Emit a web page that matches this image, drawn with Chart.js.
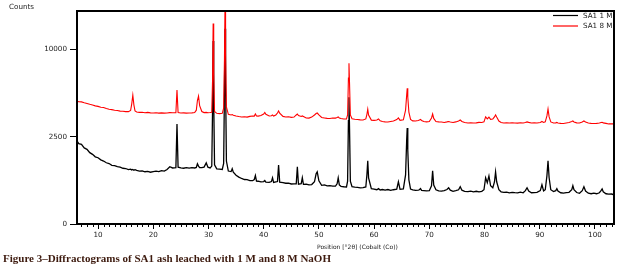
<!DOCTYPE html>
<html>
<head>
<meta charset="utf-8">
<script src="https://cdn.jsdelivr.net/npm/chart.js@4.4.1/dist/chart.umd.min.js"></script>
<style>
  html, body { margin: 0; padding: 0; background: #fff; }
  #wrap { position: relative; width: 623px; height: 274px; }
</style>
</head>
<body>
<div id="wrap"><canvas id="xrdChart"></canvas></div>
<script>
// position (°2θ) shared by both scans
const angles = [
  6.19, 6.5, 7, 7.5, 8, 8.5, 9, 9.5, 10, 10.5,
  11, 11.5, 12, 12.5, 13, 13.5, 14, 14.5, 15, 15.5, 15.9, 16.1, 16.3, 16.5, 16.7,
  17, 17.5, 18, 18.5, 19, 19.5, 20, 20.5, 21, 21.5, 22, 22.5, 23, 23.5,
  24.1, 24.3, 24.5, 25, 25.5, 26, 26.5, 27, 27.5, 27.8, 28.0, 28.2, 28.4, 28.8, 29.2, 29.6, 29.9, 30.3,
  30.6, 30.75, 30.85, 30.95, 31.1, 31.5, 32, 32.5, 32.75, 32.9, 33.0, 33.1, 33.25, 33.6, 34.1, 34.3, 34.5,
  35, 35.5, 36, 36.5, 37, 37.5, 38, 38.3, 38.5, 38.7, 39, 39.5, 40, 40.2, 40.4, 41, 41.4, 41.6, 41.8, 42.2, 42.5, 42.7, 42.9, 43.5, 44, 44.5, 45, 45.5,
  45.9, 46.1, 46.3, 46.8, 47.0, 47.2, 47.7, 48.2, 48.7, 49.2, 49.5, 49.7, 50.0, 50.5, 51, 51.5, 52, 52.5, 53, 53.3, 53.5, 53.7, 54, 54.5,
  55, 55.2, 55.35, 55.45, 55.55, 55.7, 56, 56.5, 57, 57.5, 58, 58.5, 58.7, 58.85, 59.0, 59.5, 60,
  60.5, 60.8, 61.1, 61.5, 62, 62.5, 63, 63.5, 64.1, 64.4, 64.7, 65.3, 65.7, 65.9, 66.0, 66.1, 66.3, 66.6, 67, 67.5, 68, 68.2, 68.4, 68.6, 69, 69.5,
  70, 70.4, 70.6, 70.8, 71.2, 71.7, 72.2, 72.7, 73.2, 73.5, 73.8, 74.3, 74.8, 75.3, 75.6, 75.9, 76.4, 77, 77.5, 78, 78.5, 79, 79.5,
  79.9, 80.2, 80.5, 80.8, 81.1, 81.5, 81.8, 82.0, 82.2, 82.6, 83, 83.5, 84, 84.5, 85, 85.5, 86, 86.5, 87, 87.4, 87.7, 88.0, 88.5, 89, 89.5, 90.1, 90.4, 90.7,
  91.0, 91.3, 91.5, 91.7, 92.0, 92.5, 92.9, 93.1, 93.3, 93.8, 94.3, 94.8, 95.3, 95.8, 96.0, 96.2, 96.7, 97.2, 97.7, 98.0, 98.3, 98.8, 99.3, 99.8, 100.3, 100.8, 101.1, 101.3, 101.5, 102, 102.5, 103, 103.45
];

// SA1 1 M (black)
const countsSA1_1M = [
  2262, 2120, 2080, 1900, 1830, 1670, 1590, 1480, 1440, 1350,
  1300, 1230, 1200, 1130, 1120, 1080, 1060, 1020, 1010, 970, 985, 960, 975, 950, 965,
  940, 915, 925, 895, 905, 880, 900, 915, 900, 935, 920, 975, 1075, 1030,
  1040, 3273, 1060, 1034, 1020, 1045, 1025, 1040, 1030, 1050, 1190, 1100, 1040, 1045, 1060, 1225, 1060, 1030,
  1100, 4500, 11000, 5000, 1150, 1000, 990, 975, 1200, 6000, 12500, 6500, 1300, 920, 900, 1000, 880,
  780, 720, 680, 650, 645, 620, 615, 650, 770, 605, 600, 580, 590, 620, 575, 570, 590, 700, 565, 580, 590, 1140, 575, 560, 545, 545, 525, 530,
  530, 1070, 520, 535, 700, 515, 520, 500, 510, 585, 825, 890, 610, 490, 500, 475, 485, 470, 470, 530, 700, 500, 465, 455,
  450, 600, 3500, 5280, 3000, 600, 455, 445, 440, 430, 435, 450, 800, 1306, 700, 410, 400,
  385, 410, 380, 390, 375, 390, 370, 385, 400, 585, 395, 405, 790, 2300, 3020, 1800, 640, 400, 380, 370, 375, 385, 410, 370, 365, 360,
  363, 480, 927, 500, 385, 360, 355, 365, 390, 430, 375, 350, 365, 385, 455, 375, 350, 342, 355, 340, 352, 338, 350,
  385, 700, 560, 760, 480, 430, 580, 893, 585, 385, 340, 330, 335, 320, 330, 322, 318, 332, 320, 365, 430, 355, 320, 325, 330, 365, 505, 360,
  385, 760, 1306, 700, 385, 345, 365, 410, 355, 320, 312, 325, 330, 385, 480, 385, 325, 310, 365, 455, 355, 310, 300, 312, 300, 320, 365, 405, 340, 300, 292, 295, 280
];

// SA1 8 M (red)
const countsSA1_8M = [
  4958, 4900, 4890, 4820, 4770, 4700, 4650, 4580, 4540, 4470,
  4450, 4370, 4320, 4290, 4240, 4230, 4180, 4175, 4140, 4140, 4230, 4720, 5450, 4640, 4200,
  4120, 4090, 4100, 4060, 4085, 4050, 4040, 4060, 4030, 4050, 4030, 4045, 4070, 4060,
  4060, 5880, 4070, 4040, 4050, 4030, 4040, 4050, 4080, 4250, 5000, 5370, 4600, 4150, 4070, 4090, 4060, 4080,
  4100, 7000, 13200, 7500, 4150, 4020, 4000, 4020, 4400, 9000, 16000, 9500, 4500, 3950, 3900, 3930, 3880,
  3830, 3790, 3760, 3770, 3750, 3800, 3830, 3820, 3970, 3830, 3820, 3860, 3970, 4080, 3950, 3830, 3840, 3900, 3820, 3900, 4040, 4190, 4030, 3800, 3760, 3770, 3730, 3750,
  3900, 3970, 3860, 3790, 3830, 3790, 3690, 3680, 3750, 3900, 4000, 4040, 3900, 3720, 3690, 3660, 3650, 3690, 3680, 3720, 3760, 3690, 3650, 3620,
  3620, 3900, 7000, 8480, 6500, 3900, 3640, 3600, 3580, 3560, 3550, 3620, 3950, 4330, 3900, 3540, 3520,
  3550, 3620, 3490, 3450, 3420, 3410, 3450, 3480, 3580, 3690, 3520, 3560, 4260, 5450, 6050, 5290, 4110, 3590, 3490, 3480, 3520, 3550, 3590, 3520, 3450, 3420,
  3450, 3690, 3970, 3655, 3450, 3420, 3410, 3385, 3420, 3450, 3415, 3385, 3420, 3485, 3550, 3450, 3385, 3350, 3360, 3345, 3355, 3385, 3380,
  3420, 3760, 3620, 3750, 3590, 3620, 3760, 3900, 3750, 3480, 3385, 3350, 3360, 3345, 3355, 3350, 3340, 3360, 3350, 3380, 3420, 3390, 3350, 3355, 3345, 3385, 3450, 3385,
  3420, 3830, 4335, 3760, 3420, 3350, 3355, 3385, 3350, 3320, 3318, 3350, 3385, 3450, 3485, 3420, 3355, 3345, 3420, 3485, 3420, 3350, 3320, 3318, 3320, 3350, 3385, 3390, 3355, 3320, 3286, 3290, 3286
];

const seriesNames = ["SA1 1 M", "SA1 8 M"];
const xTicks = [10, 20, 30, 40, 50, 60, 70, 80, 90, 100];
const yTicks = [0, 2500, 10000];
const yTitle = "Counts";
const xTitle = "Position [°2θ] (Cobalt (Co))";
const caption = "Figure 3–Diffractograms of SA1 ash leached with 1 M and 8 M NaOH";

const FONT = '"DejaVu Sans", sans-serif';

// the counts axis is square-root scaled
function toPoints(counts) {
  return angles.map((a, i) => ({ x: a, y: Math.sqrt(counts[i]) }));
}

/* ===== FRAME, MINOR TICKS, LEGEND, TEXTS ===== */
const decorations = {
  id: "decorations",
  afterDraw(chart) {
    const { ctx, chartArea: a, scales } = chart;
    const xs = scales.x;
    ctx.save();

    // minor ticks every degree
    ctx.strokeStyle = "#000";
    ctx.lineWidth = 1;
    ctx.beginPath();
    for (let v = Math.ceil(xs.min); v <= xs.max; v++) {
      if (v % 10 === 0) continue;
      const px = Math.round(xs.getPixelForValue(v)) + 0.5;
      ctx.moveTo(px, a.bottom);
      ctx.lineTo(px, a.bottom + 3);
    }
    ctx.stroke();

    // legend (top right, inside the frame)
    const colors = ["#000000", "#ff0000"];
    ctx.font = "7.2px " + FONT;
    ctx.textBaseline = "middle";
    ctx.textAlign = "left";
    seriesNames.forEach((name, i) => {
      const y = a.top + 4.5 + i * 10.5;
      ctx.strokeStyle = colors[i];
      ctx.lineWidth = 1.2;
      ctx.beginPath();
      ctx.moveTo(a.right - 61, y);
      ctx.lineTo(a.right - 36, y);
      ctx.stroke();
      ctx.fillStyle = "#222";
      ctx.fillText(name, a.right - 31, y + 0.5);
    });

    // frame
    ctx.strokeStyle = "#000";
    ctx.lineWidth = 2;
    ctx.strokeRect(a.left, a.top, a.right - a.left, a.bottom - a.top);

    // axis titles
    ctx.fillStyle = "#222";
    ctx.textBaseline = "alphabetic";
    ctx.font = "7.2px " + FONT;
    ctx.fillText(yTitle, 9, 8.5);
    ctx.font = "6px " + FONT;
    ctx.fillText(xTitle, 317, 249);

    // figure caption
    ctx.fillStyle = "#3d1a0e";
    ctx.font = 'bold 11px "Liberation Serif", "DejaVu Serif", serif';
    ctx.fillText(caption, 3, 262);

    ctx.restore();
  },
};

/* ===== XRD CHART ===== */
const ctxXrd = document.getElementById("xrdChart").getContext("2d");

new Chart(ctxXrd, {
  type: "line",
  data: {
    datasets: [
      {
        label: seriesNames[1],
        data: toPoints(countsSA1_8M),
        borderColor: "#ff0000",
        borderWidth: 1.1,
        pointRadius: 0,
        tension: 0,
      },
      {
        label: seriesNames[0],
        data: toPoints(countsSA1_1M),
        borderColor: "#000000",
        borderWidth: 1.3,
        pointRadius: 0,
        tension: 0,
      },
    ],
  },
  options: {
    responsive: true,
    maintainAspectRatio: false,
    animation: false,
    devicePixelRatio: 1,
    layout: { padding: { left: 0, top: 11, right: 9, bottom: 0 } },
    plugins: {
      legend: { display: false },
      tooltip: { enabled: false },
    },
    scales: {
      x: {
        type: "linear",
        min: 6.19,
        max: 103.45,
        afterFit: (scale) => { scale.height = 50; },
        afterBuildTicks: (scale) => {
          scale.ticks = xTicks.map((v) => ({ value: v }));
        },
        border: { display: false },
        grid: {
          drawOnChartArea: false,
          drawTicks: true,
          tickLength: 5,
          tickColor: "#000",
          tickWidth: 1,
        },
        ticks: {
          color: "#222",
          font: { family: FONT, size: 7.2 },
          padding: 2,
          maxRotation: 0,
          autoSkip: false,
        },
      },
      y: {
        type: "linear",
        min: 0,
        max: 122,
        afterFit: (scale) => { scale.width = 77; },
        afterBuildTicks: (scale) => {
          scale.ticks = yTicks.map((v) => ({ value: Math.sqrt(v) }));
        },
        border: { display: false },
        grid: {
          drawOnChartArea: false,
          drawTicks: true,
          tickLength: 7,
          tickColor: "#000",
          tickWidth: 1,
        },
        ticks: {
          color: "#222",
          font: { family: FONT, size: 7.2 },
          padding: 3,
          autoSkip: false,
          callback: (v) => String(Math.round(v * v)),
        },
      },
    },
  },
  plugins: [decorations],
});
</script>
</body>
</html>
